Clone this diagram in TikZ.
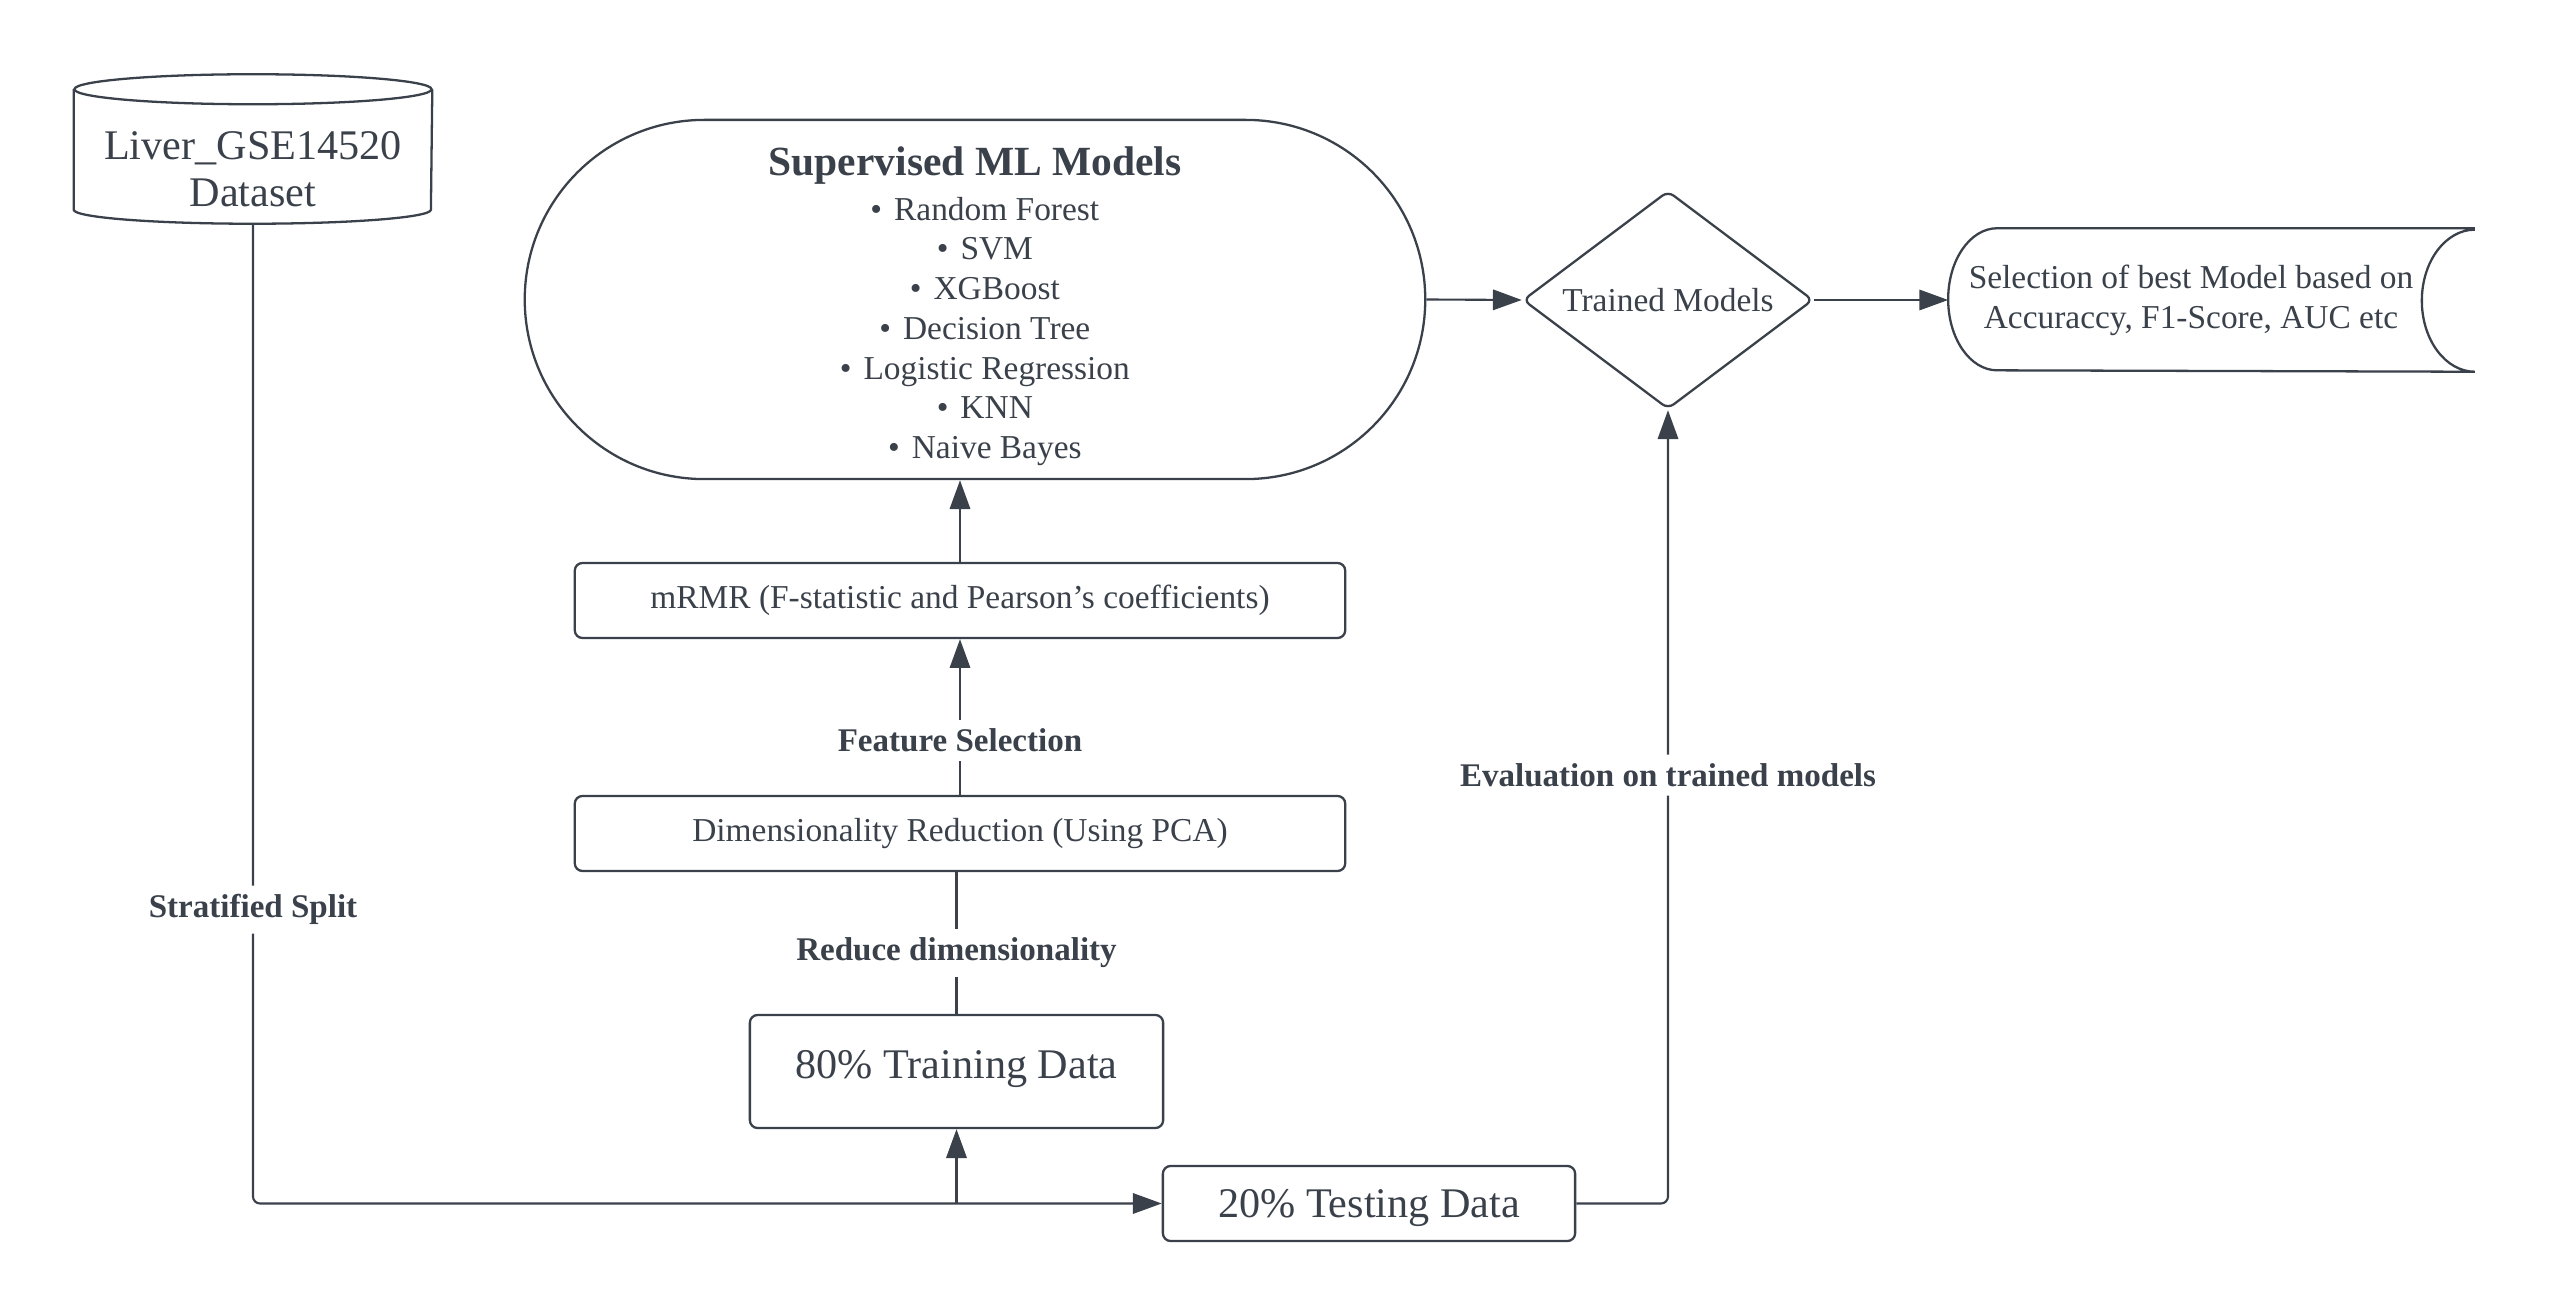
\documentclass[tikz,border=0pt]{standalone}
\usepackage{fontspec}
\setmainfont{Liberation Serif}
\usetikzlibrary{arrows.meta,shapes.geometric,shapes.misc,positioning}
\definecolor{ink}{HTML}{3A414A}
\newcommand{\itm}[1]{\hspace*{5.6pt}\textbullet\hspace{0.36em}#1\\}

\begin{document}
\begin{tikzpicture}[x=0.01cm,y=-0.01cm,
    every node/.style={text=ink,font=\fontsize{9.5}{11.3}\selectfont},
    shp/.style={draw=ink,line width=0.65pt},
    line/.style={draw=ink,line width=0.6pt},
    arr/.style={line,-{Triangle[length=8.2pt,width=5.8pt]}},
    box/.style={shp,rounded corners=2.2pt,align=center,inner sep=0pt},
    big/.style={font=\fontsize{12}{14.5}\selectfont},
    lbl/.style={fill=white,inner sep=2.5pt,font=\fontsize{9.4}{11}\selectfont\bfseries},
    ]
    \useasboundingbox (0,0) rectangle (2550,1313);
    \node[align=center,big,minimum width=3.57cm,minimum height=1.18cm] (data) at (253,164) {\rule{0pt}{11pt}Liver\_GSE14520\\[-1pt]Dataset};
    \draw[shp] ([yshift=0.15cm]data.north) ellipse[x radius=1.785cm,y radius=0.15cm];
    \draw[shp] ([yshift=0.15cm]data.north west) -- ([yshift=0.14cm]data.south west) arc[start angle=180,end angle=360,x radius=1.785cm,y radius=0.14cm] -- ([yshift=0.15cm]data.north east);
    \node[shp,rounded rectangle,align=center,inner sep=0pt,minimum width=9cm,minimum height=3.59cm] (ml) at (975,299.5)
      {{\fontsize{11.8}{14}\selectfont\bfseries\rule{0pt}{12pt}Supervised ML Models}\\[1.4pt]
       \itm{Random Forest}\itm{SVM}\itm{XGBoost}\itm{Decision Tree}\itm{Logistic Regression}\itm{KNN}\hspace*{5.6pt}\textbullet\hspace{0.36em}Naive Bayes};
    \node[shp,diamond,aspect=1.33,rounded corners=2pt,inner sep=0pt,minimum width=2.9cm,minimum height=2.18cm] (trained) at (1668,300) {Trained Models};
    \node[align=center,minimum width=4.84cm,minimum height=1.42cm] (best) at (2191,300) {Selection of best Model based on\\Accuraccy, F1-Score, AUC etc};
    \draw[shp] ([xshift=0.41cm]best.north east) -- ([xshift=0.49cm]best.north west) arc[start angle=90,end angle=270,x radius=0.49cm,y radius=0.71cm] -- ([xshift=0.41cm]best.south east) arc[start angle=270,end angle=90,x radius=0.53cm,y radius=0.71cm];
    \node[box,minimum width=7.7cm,minimum height=0.75cm] (mrmr) at (960,600.5) {mRMR (F-statistic and Pearson’s coefficients)};
    \node[box,minimum width=7.7cm,minimum height=0.75cm] (dim) at (960,833.5) {Dimensionality Reduction (Using PCA)};
    \node[box,big,text height=7.5pt,text depth=3.5pt,minimum width=4.13cm,minimum height=1.13cm] (train) at (956.5,1071.5) {80\% Training Data};
    \node[box,big,text height=9.5pt,text depth=1.5pt,minimum width=4.12cm,minimum height=0.75cm] (test) at (1369,1203.5) {20\% Testing Data};
    \coordinate (split) at (train.south |- test.west);

    \draw[arr,rounded corners=2pt] (data.south) |- node[lbl,pos=0.35]{Stratified Split} (test.west);
    \draw[arr] (split) -- (train.south);
    \draw[line] (train.north) -- node[lbl,pos=0.43]{Reduce dimensionality} (train.north |- dim.south);
    \draw[arr] (dim.north) -- node[lbl,pos=0.35]{Feature Selection} (mrmr.south);
    \draw[arr] (mrmr.north) -- (mrmr.north |- ml.south);
    \draw[arr] (ml.east) -- (trained.west);
    \draw[arr] (trained.east) -- (best.west);
    \draw[arr,rounded corners=2pt] (test.east) -| node[lbl,pos=0.77]{Evaluation on trained models} (trained.south);
\end{tikzpicture}
\end{document}
